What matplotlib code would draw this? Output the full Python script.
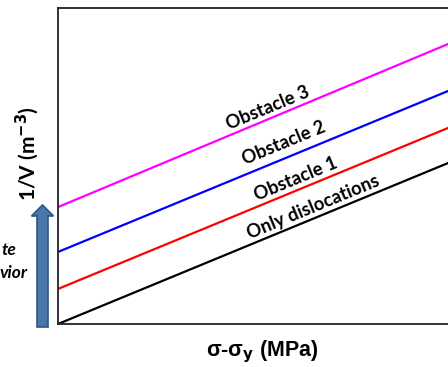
import math
import matplotlib
matplotlib.use("Agg")
import matplotlib.pyplot as plt
from matplotlib.patches import FancyArrow

# values (axis in arbitrary units 0..100)
x_ends = [0, 100]
only_disl = [0, 53.8]
obstacle1 = [11.1, 64.9]
obstacle2 = [22.8, 76.6]
obstacle3 = [37.0, 91.5]

series = [only_disl, obstacle1, obstacle2, obstacle3]
colors = ["black", "#ff0000", "#0000ff", "#ff00ff"]
labels = ["Only dislocations", "Obstacle 1", "Obstacle 2", "Obstacle 3"]
label_x = [62.0, 57.8, 54.9, 51.0]
label_off = [3.6, 3.8, 5.0, 3.8]

W, H = 448, 367
fig = plt.figure(figsize=(W / 100, H / 100), dpi=100)

# main axes, right side runs past the image edge
left, right, top, bottom = 58, 470, 8, 324
ax = fig.add_axes([left / W, 1 - bottom / H, (right - left) / W, (bottom - top) / H])
ax.set_xlim(0, 100)
ax.set_ylim(0, 100)
ax.set_xticks([])
ax.set_yticks([])
for s in ax.spines.values():
    s.set_linewidth(1.3)
    s.set_color("#222222")

for ys, c in zip(series, colors):
    ax.plot(x_ends, ys, color=c, lw=1.6, solid_capstyle="butt")

# labels along the lines
slope = (only_disl[1] - only_disl[0]) / (x_ends[1] - x_ends[0])
p0 = ax.transData.transform((0, 0))
p1 = ax.transData.transform((100, 100 * slope))
angle = math.degrees(math.atan2(p1[1] - p0[1], p1[0] - p0[0]))
for ys, lab, lx, off in zip(series, labels, label_x, label_off):
    ly = ys[0] + slope * lx + off
    ax.text(lx, ly, lab, rotation=angle, rotation_mode="anchor",
            ha="center", va="center", fontsize=13.2, fontweight="bold",
            family="Lato", color="black")

# overlay in pixel coordinates for the annotations outside the plot
ov = fig.add_axes([0, 0, 1, 1])
ov.set_xlim(0, W)
ov.set_ylim(H, 0)
ov.axis("off")
ov.patch.set_alpha(0)

arrow = FancyArrow(42.5, 327, 0, -122, width=11, head_width=22, head_length=11,
                   length_includes_head=True, facecolor="#4a77a8", edgecolor="#2f5687", lw=1.2)
ov.add_patch(arrow)

ov.text(16, 255, "te", ha="right", va="baseline", fontsize=12.5, fontweight="bold",
        style="italic", family="Lato")
ov.text(28, 278, "vior", ha="right", va="baseline", fontsize=12.5, fontweight="bold",
        style="italic", family="Lato")

ov.text(27, 154, "1/V (m$^{\\mathbf{-3}}$)", rotation=90, ha="center", va="center",
        fontsize=15, fontweight="bold", family="Lato")
ov.text(262, 352, r"σ-σ$_\mathbf{y}$ (MPa)", ha="center", va="center",
        fontsize=15.5, fontweight="bold", family="Liberation Sans")

fig.savefig("out.png", dpi=100)
